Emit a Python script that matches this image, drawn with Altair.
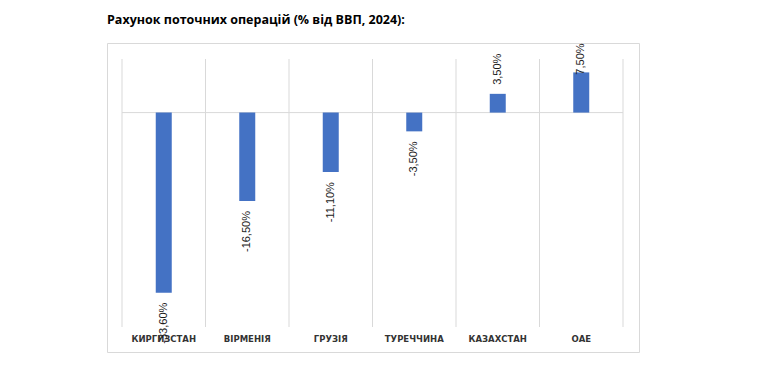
import altair as alt
import pandas as pd

categories = ["КИРГИЗСТАН", "ВІРМЕНІЯ", "ГРУЗІЯ", "ТУРЕЧЧИНА", "КАЗАХСТАН", "ОАЕ"]
values = [-33.6, -16.5, -11.1, -3.5, 3.5, 7.5]
title_text = "Рахунок поточних операцій (% від ВВП, 2024):"

df = pd.DataFrame({"country": categories, "value": values})

# chart frame (outer border) and inner plot area inside it
FW, FH = 532, 309
PX0, PX1 = 15, 516
PY0, PY1 = 16, 284
GRID = "#d9d9d9"
BAR = "#4472C4"

xscale = alt.Scale(domain=categories, paddingInner=0, paddingOuter=0, range=[PX0, PX1])
yscale = alt.Scale(domain=[-40, 10], nice=False, range=[PY1, PY0])
xaxis = alt.Axis(title=None, ticks=False, domain=False, grid=False,
                 labelAngle=0, labelFont="DejaVu Sans", labelFontSize=8.5,
                 labelFontWeight="bold", labelColor="#333333", labelPadding=7,
                 offset=-(FH - PY1))

base = alt.Chart(df)

grid = base.mark_rule(color=GRID, strokeWidth=1).encode(
    x=alt.X("country:N", scale=xscale, bandPosition=0, axis=xaxis),
    y=alt.value(PY0), y2=alt.value(PY1),
)
right_edge = base.transform_filter(
    alt.datum.country == categories[-1]
).mark_rule(color=GRID, strokeWidth=1).encode(
    x=alt.X("country:N", scale=xscale, bandPosition=1, axis=xaxis),
    y=alt.value(PY0), y2=alt.value(PY1),
)
zero = base.transform_filter(
    alt.datum.country == categories[-1]
).transform_calculate(zero="0").mark_rule(color=GRID, strokeWidth=1).encode(
    y=alt.Y("zero:Q", scale=yscale, axis=None),
    x=alt.value(PX0), x2=alt.value(PX1),
)

bars = base.mark_bar(color=BAR, size=16).encode(
    x=alt.X("country:N", scale=xscale, axis=xaxis),
    y=alt.Y("value:Q", scale=yscale, axis=None),
)

lbl = base.transform_calculate(
    label="(datum.value < 0 ? '-' : '') + replace(format(abs(datum.value), '.2f'), '.', ',') + '%'",
    lpos="datum.value > 0 ? min(datum.value, 5.4) : datum.value",
)

pos_labels = lbl.transform_filter("datum.value > 0").mark_text(
    angle=270, align="left", baseline="middle", dx=9,
    font="Liberation Sans", fontSize=11, color="#1a1a1a"
).encode(
    x=alt.X("country:N", scale=xscale, axis=xaxis),
    y=alt.Y("lpos:Q", scale=yscale, axis=None),
    text="label:N",
)
neg_labels = lbl.transform_filter("datum.value < 0").mark_text(
    angle=270, align="right", baseline="middle", dx=-10,
    font="Liberation Sans", fontSize=11, color="#1a1a1a"
).encode(
    x=alt.X("country:N", scale=xscale, axis=xaxis),
    y=alt.Y("lpos:Q", scale=yscale, axis=None),
    text="label:N",
)

chart = alt.layer(grid, right_edge, zero, bars, pos_labels, neg_labels).properties(
    width=FW, height=FH,
    autosize="none",
    padding={"left": 99, "top": 35, "right": 120, "bottom": 20},
    title=alt.TitleParams(
        title_text, anchor="start", frame="group", dx=0, offset=7,
        font="Open Sans", fontSize=12.5, fontWeight="bold", color="#000000",
        baseline="alphabetic",
    ),
).configure_view(stroke=GRID, strokeWidth=1)

chart.save("out.html", embed_options={"renderer": "svg", "actions": False})
